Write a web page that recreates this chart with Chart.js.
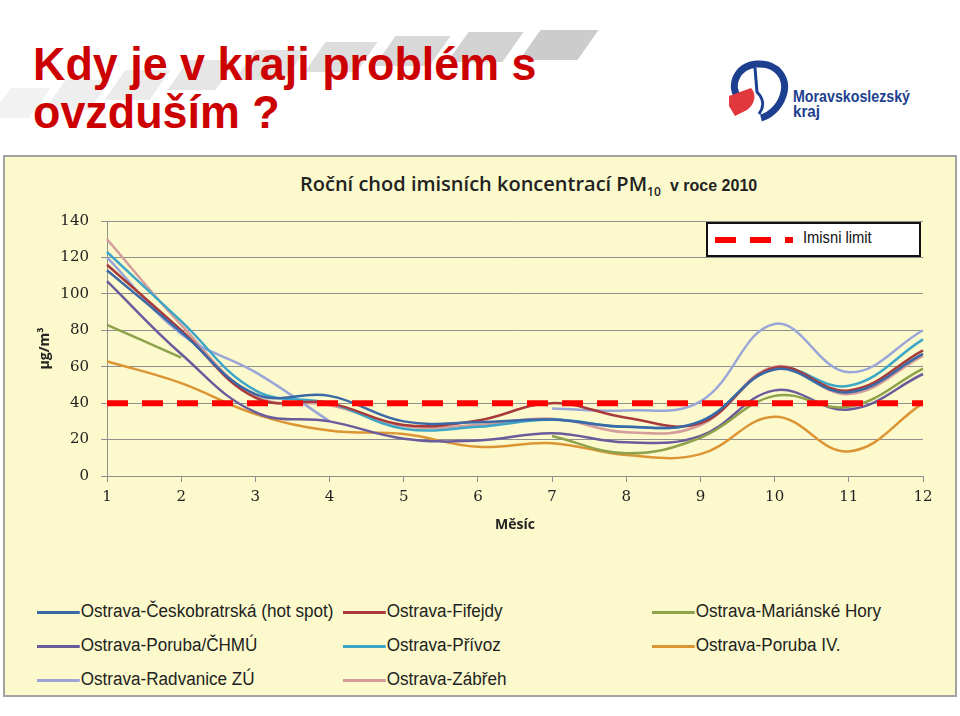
<!DOCTYPE html>
<html>
<head>
<meta charset="utf-8">
<script src="https://cdn.jsdelivr.net/npm/chart.js@4/dist/chart.umd.min.js"></script>
<style>
  body { margin: 0; width: 960px; height: 716px; background: #fff; position: relative; overflow: hidden; font-family: "Liberation Sans", sans-serif; }
  .tile { position: absolute; height: 30px; transform: skewX(-35deg); }
  #heading { position: absolute; left: 33px; top: 40px; font-family: "Liberation Sans", sans-serif; font-weight: bold; font-size: 46px; line-height: 48px; color: #cc0000; transform: scaleX(0.975); transform-origin: left top; white-space: nowrap; }
  #logo { position: absolute; left: 725px; top: 58px; }
  #panel { position: absolute; left: 3px; top: 155px; width: 950px; height: 538px; border: 2px solid #a3a3a3; background: #fcfacc; }
  #ctitle { position: absolute; left: 300px; top: 170px; font-family: "Open Sans", sans-serif; font-weight: 600; font-size: 20px; color: #222; white-space: nowrap; }
  #ctitle sub { font-size: 12px; }
  #ctitle b { font-family: "Liberation Sans", sans-serif; font-size: 16px; font-weight: bold; margin-left: 4px; }
  #wrap { position: absolute; left: 0; top: 200px; width: 960px; height: 345px; }
  #limitbox { position: absolute; left: 706px; top: 222px; width: 211px; height: 31px; background: #fff; border: 2px solid #111; }
  #limitbox .sw { position: absolute; left: 7px; top: 13px; width: 78px; height: 6px; background: repeating-linear-gradient(90deg, #ff0000 0 21px, transparent 21px 35px); }
  #limitbox span { position: absolute; left: 95px; top: 5px; font-family: "Liberation Sans", sans-serif; font-size: 16px; color: #111; transform: scaleX(0.92); transform-origin: left top; }
  .lg { position: absolute; font-family: "Liberation Sans", sans-serif; font-size: 18px; color: #222; white-space: nowrap; transform: scaleX(0.95); transform-origin: left top; }
  .lg i { display: inline-block; width: 45px; height: 3px; vertical-align: middle; margin-right: 1px; }
</style>
</head>
<body>
<div class="tile" style="left:0px;top:88px;width:40px;background:#f2f2f2"></div>
<div class="tile" style="left:55px;top:80px;width:45px;background:#eeeeee"></div>
<div class="tile" style="left:115px;top:70px;width:45px;background:#ebebeb"></div>
<div class="tile" style="left:178px;top:60px;width:48px;background:#e6e6e6"></div>
<div class="tile" style="left:245px;top:50px;width:50px;background:#e2e2e2"></div>
<div class="tile" style="left:315px;top:42px;width:52px;background:#dddddd"></div>
<div class="tile" style="left:385px;top:36px;width:55px;background:#d8d8d8"></div>
<div class="tile" style="left:458px;top:32px;width:55px;background:#d2d2d2"></div>
<div class="tile" style="left:530px;top:30px;width:58px;background:#cccccc"></div>
<div id="heading">Kdy je v kraji problém s<br>ovzduším ?</div>
<svg id="logo" width="200" height="66" viewBox="0 0 200 66">
  <path d="M14 40 C 4 30, 10 8, 32 6 C 52 5, 64 20, 58 38 C 54 50, 44 58, 36 60" fill="none" stroke="#1d3f8f" stroke-width="7"/>
  <path d="M4 38 L 26 30 C 32 36, 30 46, 22 52 L 10 58 L 4 48 Z" fill="#e0383d"/>
  <path d="M30 10 L 32 34 C 38 40, 40 48, 34 56" fill="none" stroke="#1d3f8f" stroke-width="3"/>
  <text x="68" y="44" font-family="Liberation Sans, sans-serif" font-weight="bold" font-size="16" textLength="117" lengthAdjust="spacingAndGlyphs" fill="#1d3f8f">Moravskoslezský</text>
  <text x="68" y="59" font-family="Liberation Sans, sans-serif" font-weight="bold" font-size="16" textLength="27" lengthAdjust="spacingAndGlyphs" fill="#1d3f8f">kraj</text>
</svg>
<div id="panel"></div>
<div id="ctitle">Roční chod imisních koncentrací PM<sub>10</sub> <b>v roce 2010</b></div>
<div id="wrap"><canvas id="chart"></canvas></div>
<div id="limitbox"><div class="sw"></div><span>Imisni limit</span></div>
<div id="legend"></div>
<script>
// měsíce a hodnoty PM10 (µg/m³)
const months = ["1", "2", "3", "4", "5", "6", "7", "8", "9", "10", "11", "12"];
const ceskobratrska = [113, 79, 45, 44, 30, 29.5, 31, 27, 30, 58.5, 46, 67];
const fifejdy = [116, 80, 43, 40, 28, 30.5, 40, 32, 29, 59.5, 47, 69];
const marianskeHory = [83, 65, null, null, null, null, 22, 12.5, 21, 44, 38, 59];
const porubaChmu = [107, 67, 35, 30, 20.5, 19.5, 23.5, 18.5, 22, 47, 36.5, 56];
const privoz = [123, 85, 47, 40, 26, 27, 31, 27, 30, 59, 49.5, 75];
const porubaIV = [63, 51, 34, 25, 23, 16, 18, 11.5, 12, 32.5, 13.5, 40];
const radvanice = [120, 78, 57, 30, null, null, 37, 36, 41, 83.5, 57, 80];
const zabreh = [130, 83, 44, 39, 27.5, 28, 31.5, 24, 28, 60, 45, 66];
const limit = [40, 40, 40, 40, 40, 40, 40, 40, 40, 40, 40, 40];
const yTicks = [0, 20, 40, 60, 80, 100, 120, 140];

const series = [
  { label: "Ostrava-Českobratrská (hot spot)", data: ceskobratrska, color: "#3b68a6" },
  { label: "Ostrava-Fifejdy", data: fifejdy, color: "#a83a3b" },
  { label: "Ostrava-Mariánské Hory", data: marianskeHory, color: "#8ea24c" },
  { label: "Ostrava-Poruba/ČHMÚ", data: porubaChmu, color: "#6a5c9c" },
  { label: "Ostrava-Přívoz", data: privoz, color: "#3da6c6" },
  { label: "Ostrava-Poruba IV.", data: porubaIV, color: "#dc9535" },
  { label: "Ostrava-Radvanice ZÚ", data: radvanice, color: "#9aa6d8" },
  { label: "Ostrava-Zábřeh", data: zabreh, color: "#d49c9a" }
];

// legenda dole (3 sloupce)
const cols = [37, 343, 652];
const rows = [601, 635, 669];
const legend = document.getElementById("legend");
series.forEach((s, i) => {
  const d = document.createElement("div");
  d.className = "lg";
  d.style.left = cols[i % 3] + "px";
  d.style.top = rows[Math.floor(i / 3)] + "px";
  d.innerHTML = '<i style="background:' + s.color + '"></i>' + s.label;
  legend.appendChild(d);
});

const grey = "#8f8f8f";
const tickFont = { family: "'DejaVu Serif', 'Liberation Serif', serif", size: 15 };
const ctx = document.getElementById("chart").getContext("2d");
new Chart(ctx, {
  type: "line",
  data: {
    labels: months,
    datasets: [
      {
        label: "Imisni limit",
        data: limit,
        borderColor: "#ff0000",
        borderWidth: 6,
        borderDash: [21, 14],
        tension: 0,
        pointRadius: 0
      }
    ].concat(series.map(s => ({
      label: s.label,
      data: s.data,
      borderColor: s.color,
      borderWidth: 2.5,
      pointRadius: 0,
      tension: 0.4,
      spanGaps: false
    })))
  },
  options: {
    responsive: true,
    maintainAspectRatio: false,
    animation: false,
    layout: { padding: { top: 19, left: 33, right: 37, bottom: 8 } },
    plugins: {
      legend: { display: false },
      tooltip: { enabled: false }
    },
    scales: {
      x: {
        afterFit: s => { s.height = 61; },
        grid: { drawOnChartArea: false, color: grey, tickLength: 6 },
        border: { color: grey },
        ticks: { color: "#222", padding: 6, font: tickFont },
        title: { display: true, text: "Měsíc", color: "#222", font: { family: "Open Sans", size: 14, weight: "bold" } }
      },
      y: {
        min: 0,
        max: 140,
        afterFit: s => { s.width = 74; },
        afterBuildTicks: s => { s.ticks = yTicks.map(v => ({ value: v })); },
        grid: { color: grey, tickLength: 6 },
        border: { color: grey },
        ticks: { color: "#222", padding: 12, font: tickFont },
        title: { display: true, text: "µg/m³", color: "#222", font: { family: "Open Sans", size: 14, weight: "bold" } }
      }
    }
  }
});
</script>
</body>
</html>
